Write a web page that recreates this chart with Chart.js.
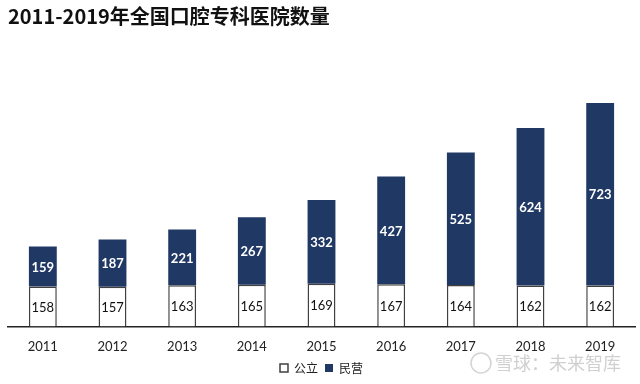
<!DOCTYPE html>
<html>
<head>
<meta charset="utf-8">
<script src="https://cdn.jsdelivr.net/npm/chart.js@4/dist/chart.umd.min.js"></script>
<style>
html,body{margin:0;padding:0;background:#fff;}
#wrap{width:640px;height:384px;position:relative;}
</style>
</head>
<body>
<div id="wrap"><canvas id="c" width="640" height="384"></canvas></div>
<script>
const years = ['2011','2012','2013','2014','2015','2016','2017','2018','2019'];
const publicCounts = [158,157,163,165,169,167,164,162,162];
const privateCounts = [159,187,221,267,332,427,525,624,723];
const seriesNames = ['公立','民营'];
const titleText = '2011-2019年全国口腔专科医院数量';
const watermarkText = '雪球：未来智库';

const NAVY = '#203864';

const valueLabels = {
  id: 'valueLabels',
  afterDatasetsDraw(chart) {
    const ctx = chart.ctx;
    chart.data.datasets.forEach((ds, di) => {
      const meta = chart.getDatasetMeta(di);
      meta.data.forEach((bar, i) => {
        const v = ds.data[i];
        const y = (bar.y + bar.base) / 2;
        ctx.save();
        ctx.textAlign = 'center';
        ctx.textBaseline = 'middle';
        if (di === 0) {
          ctx.fillStyle = '#111';
          ctx.font = '13px Lato, "Liberation Sans", sans-serif';
        } else {
          ctx.fillStyle = '#fff';
          ctx.font = 'bold 13px Lato, "Liberation Sans", sans-serif';
        }
        ctx.fillText(String(v), bar.x, y + 1);
        ctx.restore();
      });
    });
  }
};

const watermark = {
  id: 'watermark',
  afterDraw(chart) {
    const ctx = chart.ctx;
    ctx.save();
    ctx.strokeStyle = '#d4d4d4';
    ctx.lineWidth = 1.5;
    ctx.beginPath();
    ctx.arc(481, 363, 10, 0, Math.PI * 2);
    ctx.stroke();
    ctx.fillStyle = '#d0d0d0';
    ctx.font = '18px "Noto Sans CJK SC", sans-serif';
    ctx.textBaseline = 'middle';
    ctx.textAlign = 'left';
    ctx.fillText(watermarkText, 495, 363);
    ctx.restore();
  }
};

new Chart(document.getElementById('c'), {
  type: 'bar',
  data: {
    labels: years,
    datasets: [
      {
        label: seriesNames[0],
        data: publicCounts,
        backgroundColor: '#ffffff',
        borderColor: '#404040',
        borderWidth: 1.5,
        barPercentage: 0.4,
        categoryPercentage: 1.0
      },
      {
        label: seriesNames[1],
        data: privateCounts,
        backgroundColor: NAVY,
        borderColor: NAVY,
        borderWidth: 0,
        barPercentage: 0.4,
        categoryPercentage: 1.0
      }
    ]
  },
  options: {
    responsive: false,
    animation: false,
    layout: { padding: { left: 8, right: 5, top: 0, bottom: 0 } },
    scales: {
      x: {
        stacked: true,
        grid: { display: false, drawTicks: false },
        border: { display: true, color: '#222', width: 1.5 },
        ticks: {
          color: '#222',
          padding: 13,
          font: { size: 13, family: 'Lato, "Liberation Sans", sans-serif' }
        },
        afterFit(scale) { scale.height -= 13; }
      },
      y: {
        stacked: true,
        display: false,
        min: 0,
        max: 1000
      }
    },
    plugins: {
      title: {
        display: true,
        text: titleText,
        align: 'start',
        color: '#111',
        font: { size: 20, weight: 'bold', family: '"Noto Sans CJK SC", sans-serif' },
        padding: { top: 4, bottom: 46 }
      },
      legend: {
        position: 'bottom',
        labels: {
          boxWidth: 8,
          boxHeight: 8,
          padding: 7,
          color: '#222',
          font: { size: 12, family: '"Noto Sans CJK SC", sans-serif' }
        }
      },
      tooltip: { enabled: false }
    }
  },
  plugins: [valueLabels, watermark]
});
</script>
</body>
</html>
